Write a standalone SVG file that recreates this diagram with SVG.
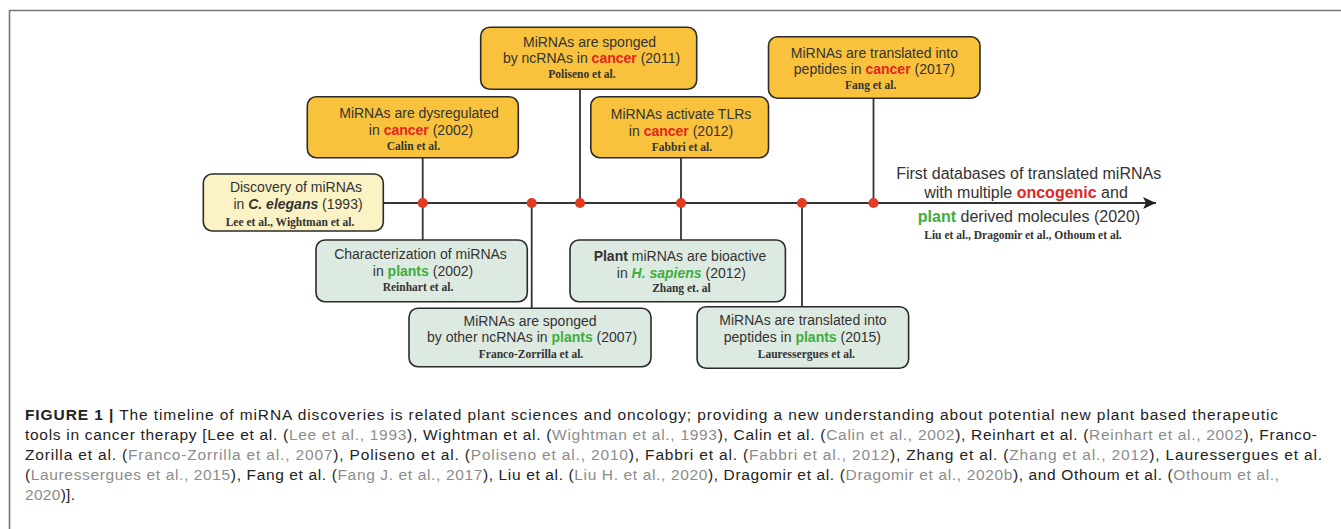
<svg xmlns="http://www.w3.org/2000/svg" width="1341" height="529" viewBox="0 0 1341 529">
<defs>
<style>
.bx{stroke:#2b2b2b;stroke-width:1.6}
.or{fill:#F9C23C}
.gr{fill:#DDEAE2}
.ye{fill:#FBF3C6}
.t{font-family:"Liberation Sans",Arial,sans-serif;font-size:14px;fill:#333;text-anchor:middle}
.a{font-family:"Liberation Serif","Times New Roman",serif;font-size:11.5px;font-weight:bold;fill:#333;text-anchor:middle}
.rt{font-family:"Liberation Sans",Arial,sans-serif;font-size:16px;fill:#333;text-anchor:middle}
.red{fill:#E52521;font-weight:bold}
.grn{fill:#3DAE3A;font-weight:bold}
.b{font-weight:bold}
.bi{font-weight:bold;font-style:italic}
.cap{font-family:"Liberation Sans",Arial,sans-serif;font-size:15.5px;fill:#222}
.g{fill:#8c8c8c}
.ln{stroke:#333;stroke-width:1.8;fill:none}
.dot{fill:#E33B22}
</style>
<marker id="arr" markerWidth="14" markerHeight="12" refX="13" refY="6" orient="auto" markerUnits="userSpaceOnUse">
<path d="M0,0 L13,6 L0,12 L3,6 Z" fill="#222"/>
</marker>
</defs>
<rect width="1341" height="529" fill="#fff"/>
<g id="frame"><path d="M9.5,529 V10.5 H1341" stroke="#777" stroke-width="1.6" fill="none"/></g>

<g id="connectors">
<line class="ln" x1="383" y1="203" x2="1156" y2="203" marker-end="url(#arr)"/>
<line class="ln" x1="422.7" y1="157.7" x2="422.7" y2="240"/>
<line class="ln" x1="531.7" y1="203" x2="531.7" y2="308.3"/>
<line class="ln" x1="580" y1="89.3" x2="580" y2="203"/>
<line class="ln" x1="681" y1="157.7" x2="681" y2="240"/>
<line class="ln" x1="802" y1="203" x2="802" y2="306.7"/>
<line class="ln" x1="873.5" y1="98.3" x2="873.5" y2="203"/>
<circle class="dot" cx="422.7" cy="203" r="5"/>
<circle class="dot" cx="531.7" cy="203" r="5"/>
<circle class="dot" cx="580" cy="203" r="5"/>
<circle class="dot" cx="681" cy="203" r="5"/>
<circle class="dot" cx="802" cy="203" r="5"/>
<circle class="dot" cx="873.5" cy="203" r="5"/>
</g>

<g id="n1993">
<rect class="bx ye" x="203.3" y="174" width="180" height="57" rx="9"/>
<text class="t" x="296" y="192.3">Discovery of miRNAs</text>
<text class="t" x="298" y="209">in <tspan class="bi">C. elegans</tspan> (1993)</text>
<text class="a" x="290" y="226">Lee et al., Wightman et al.</text>
</g>

<g id="n2002c">
<rect class="bx or" x="307.3" y="96.7" width="211" height="61" rx="9"/>
<text class="t" x="419" y="118.3">MiRNAs are dysregulated</text>
<text class="t" x="421" y="134.5">in <tspan class="red">cancer</tspan> (2002)</text>
<text class="a" x="413.5" y="149.5">Calin et al.</text>
</g>

<g id="n2011">
<rect class="bx or" x="480.7" y="27.3" width="216" height="62" rx="9"/>
<text class="t" x="589.5" y="46.5">MiRNAs are sponged</text>
<text class="t" x="591.5" y="63.3">by ncRNAs in <tspan class="red">cancer</tspan> (2011)</text>
<text class="a" x="582" y="78.3">Poliseno et al.</text>
</g>

<g id="n2012c">
<rect class="bx or" x="590.8" y="96.7" width="177.7" height="61" rx="9"/>
<text class="t" x="681" y="119.3">MiRNAs activate TLRs</text>
<text class="t" x="681" y="136">in <tspan class="red">cancer</tspan> (2012)</text>
<text class="a" x="682" y="150.7">Fabbri et al.</text>
</g>

<g id="n2017">
<rect class="bx or" x="768.5" y="36.7" width="211.5" height="61.6" rx="9"/>
<text class="t" x="874.4" y="57.7">MiRNAs are translated into</text>
<text class="t" x="874.4" y="74">peptides in <tspan class="red">cancer</tspan> (2017)</text>
<text class="a" x="870.7" y="89">Fang et al.</text>
</g>

<g id="n2002p">
<rect class="bx gr" x="316" y="240" width="211.3" height="61.7" rx="9"/>
<text class="t" x="420.5" y="259">Characterization of miRNAs</text>
<text class="t" x="423" y="276">in <tspan class="grn">plants</tspan> (2002)</text>
<text class="a" x="418" y="290.7">Reinhart et al.</text>
</g>

<g id="n2007">
<rect class="bx gr" x="409" y="308.3" width="242" height="58.4" rx="9"/>
<text class="t" x="530" y="325.7">MiRNAs are sponged</text>
<text class="t" x="532" y="342.3">by other ncRNAs in <tspan class="grn">plants</tspan> (2007)</text>
<text class="a" x="531" y="358.3">Franco-Zorrilla et al.</text>
</g>

<g id="n2012p">
<rect class="bx gr" x="570" y="240" width="215.4" height="61.7" rx="9"/>
<text class="t" x="680" y="261"><tspan class="b">Plant</tspan> miRNAs are bioactive</text>
<text class="t" x="681.4" y="277.7">in <tspan class="bi" fill="#3DAE3A">H. sapiens</tspan> (2012)</text>
<text class="a" x="681.4" y="292.3">Zhang et. al</text>
</g>

<g id="n2015">
<rect class="bx gr" x="697.1" y="306.7" width="211.5" height="61.6" rx="9"/>
<text class="t" x="803" y="325">MiRNAs are translated into</text>
<text class="t" x="802.4" y="341.7">peptides in <tspan class="grn">plants</tspan> (2015)</text>
<text class="a" x="806.4" y="358.3">Lauressergues et al.</text>
</g>

<g id="n2020">
<text class="rt" x="1028.7" y="179">First databases of translated miRNAs</text>
<text class="rt" x="1026" y="198.3">with multiple <tspan class="red">oncogenic</tspan> and</text>
<text class="rt" x="1029" y="221.5"><tspan class="grn">plant</tspan> derived molecules (2020)</text>
<text class="a" x="1023" y="239.3">Liu et al., Dragomir et al., Othoum et al.</text>
</g>

<g id="caption">
<text class="cap" x="25" y="420" textLength="1253" lengthAdjust="spacing"><tspan class="b">FIGURE 1 |</tspan> The timeline of miRNA discoveries is related plant sciences and oncology; providing a new understanding about potential new plant based therapeutic</text>
<text class="cap" x="25" y="440" textLength="1292" lengthAdjust="spacing">tools in cancer therapy [Lee et al. (<tspan class="g">Lee et al., 1993</tspan>), Wightman et al. (<tspan class="g">Wightman et al., 1993</tspan>), Calin et al. (<tspan class="g">Calin et al., 2002</tspan>), Reinhart et al. (<tspan class="g">Reinhart et al., 2002</tspan>), Franco-</text>
<text class="cap" x="25" y="460" textLength="1297" lengthAdjust="spacing">Zorilla et al. (<tspan class="g">Franco-Zorrilla et al., 2007</tspan>), Poliseno et al. (<tspan class="g">Poliseno et al., 2010</tspan>), Fabbri et al. (<tspan class="g">Fabbri et al., 2012</tspan>), Zhang et al. (<tspan class="g">Zhang et al., 2012</tspan>), Lauressergues et al.</text>
<text class="cap" x="25" y="480" textLength="1254" lengthAdjust="spacing">(<tspan class="g">Lauressergues et al., 2015</tspan>), Fang et al. (<tspan class="g">Fang J. et al., 2017</tspan>), Liu et al. (<tspan class="g">Liu H. et al., 2020</tspan>), Dragomir et al. (<tspan class="g">Dragomir et al., 2020b</tspan>), and Othoum et al. (<tspan class="g">Othoum et al.,</tspan></text>
<text class="cap" x="25" y="499.5" textLength="50" lengthAdjust="spacing"><tspan class="g">2020</tspan>)].</text>
</g>
</svg>
